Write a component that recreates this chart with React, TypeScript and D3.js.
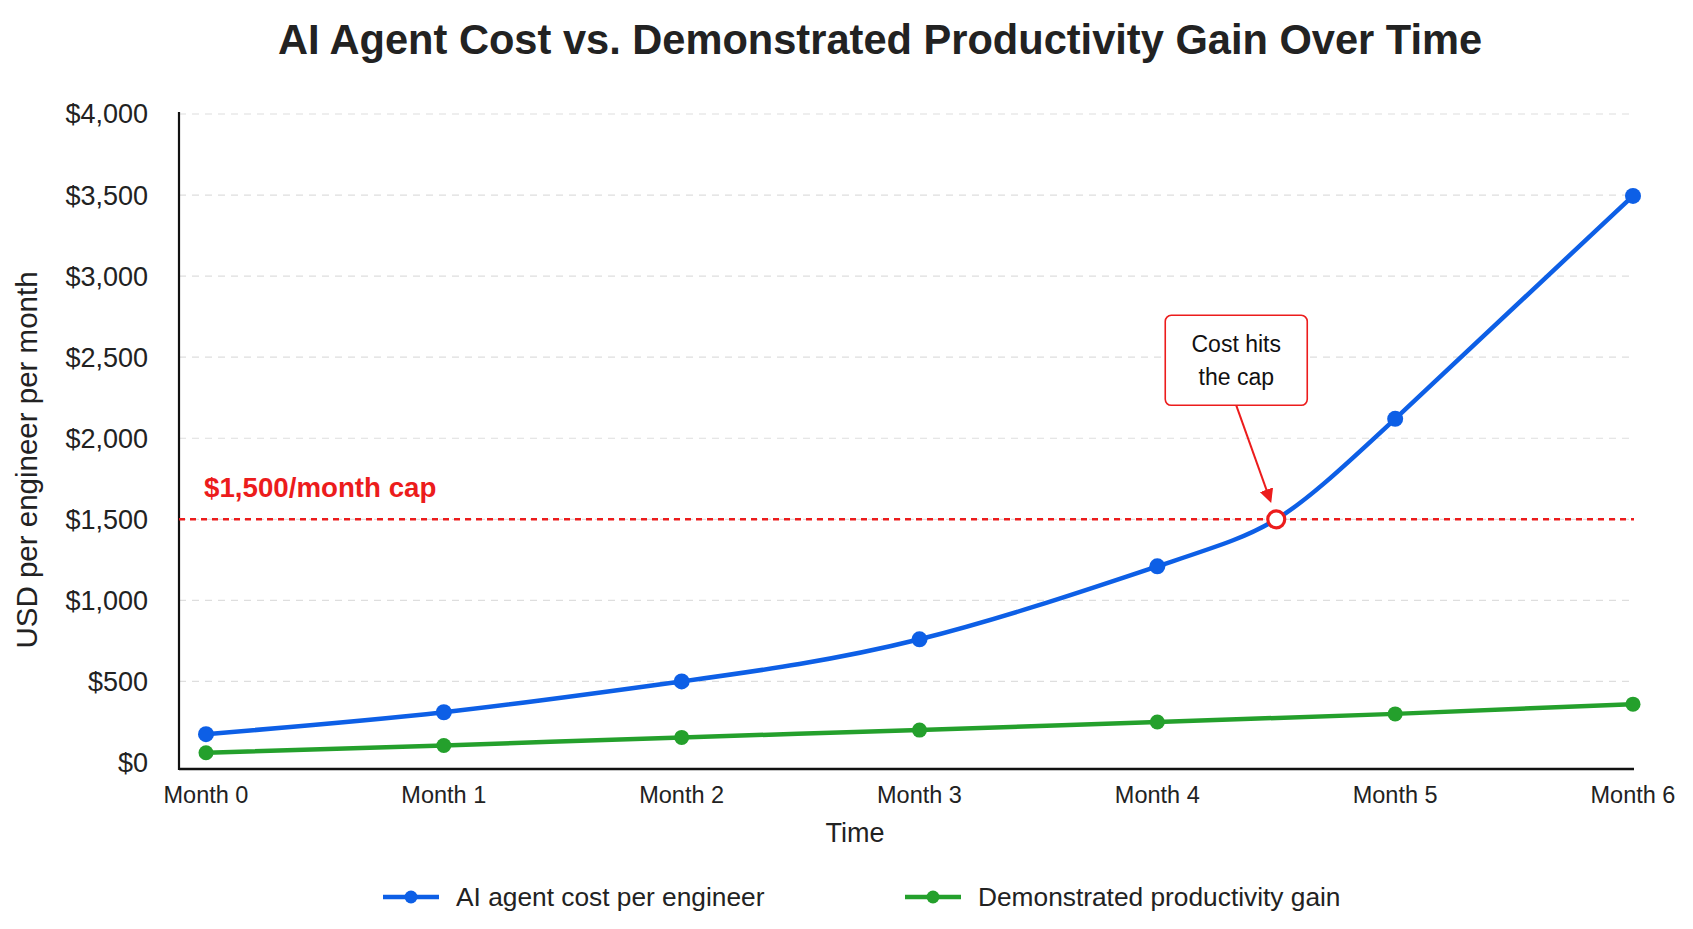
import React from 'react';
import * as d3 from 'd3';

// values
const months = ['Month 0', 'Month 1', 'Month 2', 'Month 3', 'Month 4', 'Month 5', 'Month 6'];
const costValues = [175, 310, 500, 760, 1210, 2120, 3495];
const gainValues = [60, 105, 155, 200, 250, 300, 360];
const yTicks = [0, 500, 1000, 1500, 2000, 2500, 3000, 3500, 4000];
const capValue = 1500;
const capMonth = 4.5; // where the cost curve crosses the cap
const legendLabels = ['AI agent cost per engineer', 'Demonstrated productivity gain'];

const W = 1693;
const H = 929;
const FONT = '"Liberation Sans", Arial, Helvetica, sans-serif';
const BLUE = '#0d5fe6';
const GREEN = '#24a02c';
const RED = '#ec1c1c';

const App = () => {
  const left = 179;
  const right = 1634;
  const top = 114;
  const bottom = 769;

  const x = d3.scaleLinear().domain([0, months.length - 1]).range([206, 1633]);
  const y = d3.scaleLinear().domain([-40, 4000]).range([bottom, top]);

  const costPts: [number, number][] = costValues.map((v, i) => [i, v]);
  // the curve runs through the cap crossing too
  const costCurvePts = [...costPts, [capMonth, capValue] as [number, number]].sort((a, b) => a[0] - b[0]);
  const gainPts: [number, number][] = gainValues.map((v, i) => [i, v]);

  const line = d3.line<[number, number]>()
    .x(d => x(d[0]))
    .y(d => y(d[1]))
    .curve(d3.curveNatural);

  const fmt = d3.format('$,');

  const cx = x(capMonth);
  const cy = y(capValue);

  // annotation box sits up-left of the crossing
  const boxW = 142;
  const boxH = 90;
  const boxX = cx - 40 - boxW / 2;
  const boxY = cy - 114 - boxH;
  const arrowStart = [cx - 40, cy - 114];
  const arrowEnd = [cx - 6, cy - 19];

  const legendX = [383, 905];
  const legendColors = [BLUE, GREEN];
  const legendY = 897;

  return (
    <div style={{ position: 'absolute', left: 0, top: 0 }}>
      <svg width={W} height={H} style={{ display: 'block', background: '#fff' }} fontFamily={FONT}>
        <defs>
          <marker id="arrowHead" viewBox="0 0 10 10" refX="8" refY="5" markerWidth="7" markerHeight="7" orient="auto" markerUnits="strokeWidth">
            <path d="M0,0 L10,5 L0,10 z" fill={RED} />
          </marker>
        </defs>

        <text x={880} y={54} textAnchor="middle" fontSize={41.6} fontWeight="bold" fill="#222">
          AI Agent Cost vs. Demonstrated Productivity Gain Over Time
        </text>

        {/* grid */}
        {yTicks.filter(t => t > 0).map(t => (
          <line key={t} x1={left} x2={right} y1={y(t)} y2={y(t)} stroke="#dedede" strokeWidth={1.2} strokeDasharray="7,6" />
        ))}

        {/* y tick labels */}
        {yTicks.map(t => (
          <text key={t} x={148} y={y(t)} dy="0.35em" textAnchor="end" fontSize={27} fill="#222">{fmt(t)}</text>
        ))}

        {/* axes */}
        <line x1={left} x2={left} y1={top - 2} y2={bottom + 1} stroke="#111" strokeWidth={2.2} />
        <line x1={left} x2={right} y1={bottom} y2={bottom} stroke="#111" strokeWidth={2.5} />

        {months.map((m, i) => (
          <text key={m} x={x(i)} y={803} textAnchor="middle" fontSize={23.5} fill="#222">{m}</text>
        ))}

        <text x={855} y={842} textAnchor="middle" fontSize={27} fill="#222">Time</text>
        <text transform={`translate(27,460) rotate(-90)`} dy="0.35em" textAnchor="middle" fontSize={29.5} fill="#222">
          USD per engineer per month
        </text>

        {/* cap line */}
        <line x1={left} x2={right} y1={cy} y2={cy} stroke={RED} strokeWidth={2.6} strokeDasharray="6,5" />
        <text x={204} y={497} fontSize={27.7} fontWeight="bold" fill={RED}>$1,500/month cap</text>

        {/* series */}
        <path d={line(gainPts) || ''} fill="none" stroke={GREEN} strokeWidth={4.5} />
        <path d={line(costCurvePts) || ''} fill="none" stroke={BLUE} strokeWidth={4.5} />
        {gainPts.map(d => (
          <circle key={'g' + d[0]} cx={x(d[0])} cy={y(d[1])} r={7.5} fill={GREEN} />
        ))}
        {costPts.map(d => (
          <circle key={'c' + d[0]} cx={x(d[0])} cy={y(d[1])} r={8} fill={BLUE} />
        ))}

        {/* annotation */}
        <circle cx={cx} cy={cy} r={8.5} fill="#fff" stroke={RED} strokeWidth={3.2} />
        <line x1={arrowStart[0]} y1={arrowStart[1]} x2={arrowEnd[0]} y2={arrowEnd[1]} stroke={RED} strokeWidth={2} markerEnd="url(#arrowHead)" />
        <rect x={boxX} y={boxY} width={boxW} height={boxH} rx={6} fill="#fff" stroke={RED} strokeWidth={1.6} />
        <text x={boxX + boxW / 2} y={boxY + 29} dy="0.35em" textAnchor="middle" fontSize={23} fill="#111">Cost hits</text>
        <text x={boxX + boxW / 2} y={boxY + 62} dy="0.35em" textAnchor="middle" fontSize={23} fill="#111">the cap</text>

        {/* legend */}
        {legendLabels.map((label, i) => (
          <g key={label} transform={`translate(${legendX[i]},${legendY})`}>
            <line x1={0} x2={56} y1={0} y2={0} stroke={legendColors[i]} strokeWidth={4.5} />
            <circle cx={28} cy={0} r={6.5} fill={legendColors[i]} />
            <text x={73} y={0} dy="0.35em" fontSize={26.3} fill="#222">{label}</text>
          </g>
        ))}
      </svg>
    </div>
  );
};

export default App;
